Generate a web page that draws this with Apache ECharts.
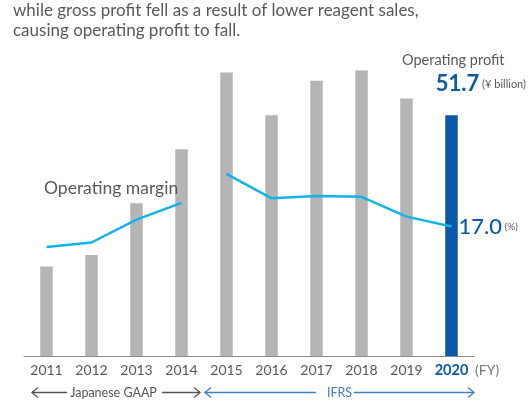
<!DOCTYPE html>
<html>
<head>
<meta charset="utf-8">
<script src="https://cdn.jsdelivr.net/npm/echarts@6/dist/echarts.min.js"></script>
<style>
    html, body {margin: 0; padding: 0; background: #fff;}
    #chart {width: 529px; height: 403px;}
</style>
</head>
<body>
<div id="chart"></div>
<script>
const FONT = 'Lato';
const GRAY_TEXT = '#5a5858';
const BLUE = '#0b5aa8';

// fiscal years
const years = ['2011', '2012', '2013', '2014', '2015', '2016', '2017', '2018', '2019', '2020'];
// operating profit, ¥ billion
const profit = [19.2, 21.7, 32.8, 44.4, 60.9, 51.7, 59.1, 61.3, 55.3, 51.7];
// operating margin %, Japanese GAAP years then IFRS years
const marginGaap = [14.3, 14.9, 17.9, 20.1];
const marginIfrs = [23.9, 20.7, 21.0, 20.9, 18.3, 17.0];

let myChart = echarts.init(document.getElementById('chart'), null, {renderer: 'canvas'});

let lineGaap = marginGaap.concat(marginIfrs.map(() => '-'));
let lineIfrs = marginGaap.map(() => '-').concat(marginIfrs);
let last = years.length - 1;

// small open arrow head
function head(x, y, dir, color) {
    return {
        type: 'polyline',
        shape: {points: [[x - dir * 6, y - 5], [x, y], [x - dir * 6, y + 5]]},
        style: {stroke: color, lineWidth: 1.3, fill: null}
    };
}

function hline(x1, x2, y, color) {
    return {type: 'line', shape: {x1: x1, y1: y, x2: x2, y2: y}, style: {stroke: color, lineWidth: 1.3}};
}

function txt(x, y, text, size, color, extra) {
    return {
        type: 'text',
        z: 100,
        style: Object.assign({
            x: x, y: y, text: text, fontFamily: FONT, fontSize: size, fill: color,
            textVerticalAlign: 'middle'
        }, extra || {})
    };
}

const ARROW_Y = 392.5;
const GAAP_COLOR = '#555555';
const IFRS_COLOR = '#3f80c4';

let option = {
    animation: false,
    grid: {left: 24, right: 55, top: 30, bottom: 47},
    xAxis: {
        type: 'category',
        data: years,
        axisTick: {show: false},
        axisLine: {lineStyle: {color: '#8a8a8a', width: 1}},
        axisLabel: {
            interval: 0,
            margin: 7,
            fontFamily: FONT,
            fontSize: 14,
            color: GRAY_TEXT,
            formatter: function (v, i) {
                return i === last ? '{hl|' + v + '}' : v;
            },
            rich: {hl: {fontFamily: FONT, fontSize: 14.5, fontWeight: 'bold', color: BLUE}}
        }
    },
    yAxis: [
        {type: 'value', min: 0, max: 70, show: false, splitLine: {show: false}},
        {type: 'value', min: 0, max: 42.8, show: false, splitLine: {show: false}}
    ],
    series: [
        {
            name: 'Operating profit',
            type: 'bar',
            data: profit,
            barWidth: 12.5,
            itemStyle: {
                color: function (p) {
                    return p.dataIndex === last ? '#0a58a8' : '#b4b5b4';
                }
            }
        },
        {
            name: 'margin gaap',
            type: 'line',
            yAxisIndex: 1,
            data: lineGaap,
            symbol: 'none',
            lineStyle: {color: '#12b2ea', width: 2.5}
        },
        {
            name: 'margin ifrs',
            type: 'line',
            yAxisIndex: 1,
            data: lineIfrs,
            symbol: 'none',
            lineStyle: {color: '#12b2ea', width: 2.5},
            endLabel: {
                show: true,
                distance: 7,
                formatter: function (p) {
                    return '{v|' + Number(p.value).toFixed(1) + '}{u| (%)}';
                },
                rich: {
                    v: {fontFamily: FONT, fontSize: 22, color: BLUE, fontWeight: 500},
                    u: {fontFamily: FONT, fontSize: 10, color: GRAY_TEXT}
                }
            }
        }
    ],
    graphic: [
        txt(13, 11, 'while gross profit fell as a result of lower reagent sales,', 17, GRAY_TEXT),
        txt(13, 31, 'causing operating profit to fall.', 17, GRAY_TEXT),
        txt(402, 60, 'Operating profit', 14.5, GRAY_TEXT),
        {
            type: 'text',
            z: 100,
            style: {
                x: 526, y: 84, textAlign: 'right', textVerticalAlign: 'middle',
                text: '{v|' + profit[last].toFixed(1) + '}{u| (¥ billion)}',
                rich: {
                    v: {fontFamily: FONT, fontSize: 22, fontWeight: 'bold', fill: BLUE},
                    u: {fontFamily: FONT, fontSize: 11, fill: GRAY_TEXT}
                }
            }
        },
        txt(44, 188, 'Operating margin', 17.5, GRAY_TEXT),
        txt(475, 370, '(FY)', 14, '#777777'),

        // Japanese GAAP span
        hline(32, 67, ARROW_Y, GAAP_COLOR),
        head(32, ARROW_Y, -1, GAAP_COLOR),
        txt(113.5, ARROW_Y, 'Japanese GAAP', 12.5, GAAP_COLOR, {textAlign: 'center'}),
        hline(162, 200, ARROW_Y, GAAP_COLOR),
        head(200, ARROW_Y, 1, GAAP_COLOR),

        // IFRS span
        hline(205, 316, ARROW_Y, IFRS_COLOR),
        head(205, ARROW_Y, -1, IFRS_COLOR),
        txt(339.5, ARROW_Y, 'IFRS', 12.5, IFRS_COLOR, {textAlign: 'center'}),
        hline(354, 474, ARROW_Y, IFRS_COLOR),
        head(474, ARROW_Y, 1, IFRS_COLOR)
    ]
};

myChart.setOption(option, true);
</script>
</body>
</html>
